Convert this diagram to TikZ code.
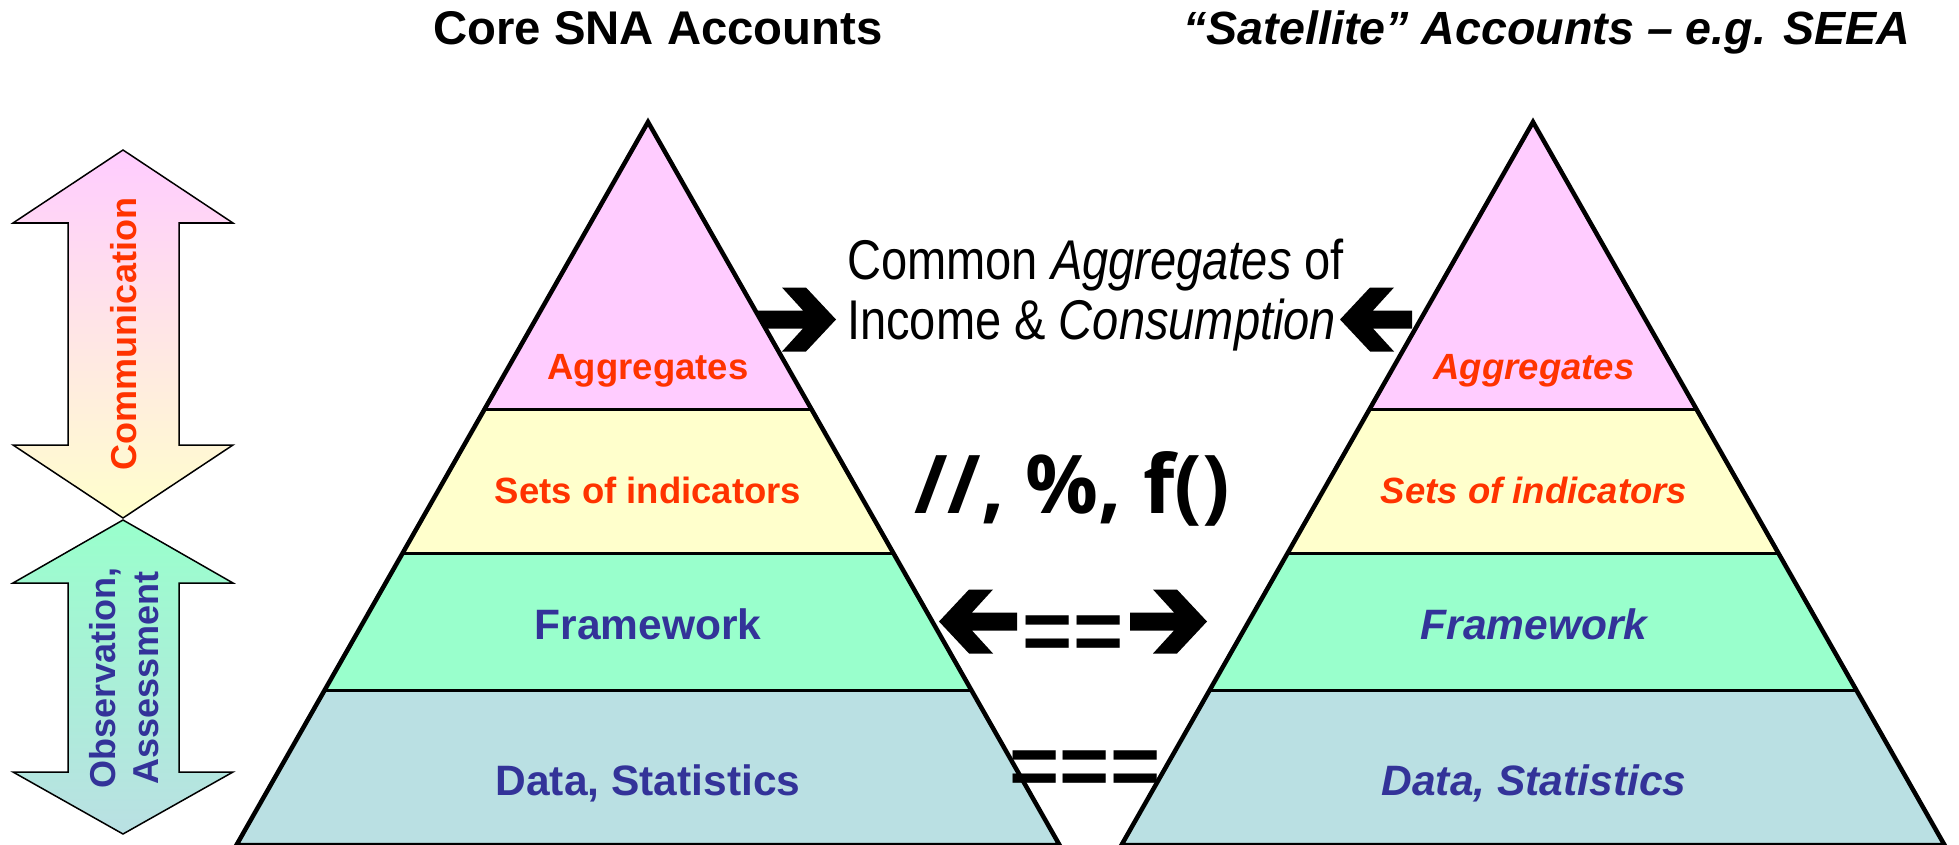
\documentclass[tikz,border=0pt]{standalone}
\usepackage{fontspec}
\setmainfont{Liberation Sans}
\newfontfamily\symbfont{Open Sans}
\newfontfamily\narrowfont[FakeStretch=0.84]{Liberation Sans}

\definecolor{bandpink}{HTML}{FFCCFF}
\definecolor{bandyellow}{HTML}{FFFFCC}
\definecolor{bandmint}{HTML}{99FFCC}
\definecolor{bandteal}{HTML}{BAE0E3}
\definecolor{labelred}{HTML}{FF3300}
\definecolor{labelblue}{HTML}{333399}

\tikzset{
  header/.style={font=\bfseries\fontsize{47.3}{56}\selectfont, anchor=base, inner sep=0pt},
  tierupper/.style={font=\bfseries\fontsize{36.5}{44}\selectfont, text=labelred, anchor=base, inner sep=0pt},
  tierlower/.style={font=\bfseries\fontsize{42.5}{51}\selectfont, text=labelblue, anchor=base, inner sep=0pt},
  midtext/.style={font=\narrowfont\fontsize{56}{61}\selectfont, anchor=base west, inner sep=0pt},
  eqsign/.style={font=\bfseries\fontsize{86}{100}\selectfont, anchor=base, inner sep=0pt},
  sidearrow/.style={draw=black, line width=1.5pt, line join=miter},
  sidelabel/.style={font=\bfseries\fontsize{36}{43}\selectfont, rotate=90, align=center, inner sep=0pt},
  tierline/.style={line width=3pt},
  % pyramid with apex at the origin, bands separated by black lines
  pyramid/.pic={
    \begin{scope}
      \clip (0,0) -- (-411.5,723) -- (411.5,723) -- cycle;
      \fill[bandpink]   (-420,-10) rectangle (420,287);
      \fill[bandyellow] (-420,287) rectangle (420,431);
      \fill[bandmint]   (-420,431) rectangle (420,568);
      \fill[bandteal]   (-420,568) rectangle (420,740);
      \draw[tierline] (-420,287) -- (420,287);
      \draw[tierline] (-420,431) -- (420,431);
      \draw[tierline] (-420,568) -- (420,568);
    \end{scope}
    \draw[line width=4.5pt, line join=miter] (0,0) -- (-411.5,723) -- (411.5,723) -- cycle;
  },
  % heavy black arrow, tip at the origin pointing to +x, shaft length #1
  blockarrow/.pic={
    \fill[black] (0,0) -- (-30,-32) -- (-54,-32) -- (-33,-9) -- (-#1,-9)
      -- (-#1,9) -- (-33,9) -- (-54,32) -- (-30,32) -- cycle;
  }
}

\begin{document}
\begin{tikzpicture}[x=1pt,y=-1pt]
\useasboundingbox (0,0) rectangle (1959,845);
\fill[white] (0,0) rectangle (1959,845);

% headings
\node[header] (hcore) at (658,45) {Core SNA Accounts};
\node[header, font=\bfseries\itshape\fontsize{46.6}{56}\selectfont] (hsat) at (1547,45) {“Satellite” Accounts – e.g. SEEA};

% side double arrows
\shade[sidearrow, top color=bandpink, bottom color=bandyellow]
  (123,150) -- (233,223) -- (179,223) -- (179,445) -- (233,445) -- (123,518)
  -- (13,445) -- (68,445) -- (68,223) -- (13,223) -- cycle;
\shade[sidearrow, top color=bandmint, bottom color=bandteal]
  (123,520) -- (233,583) -- (179,583) -- (179,772) -- (233,772) -- (123,834)
  -- (13,772) -- (68,772) -- (68,583) -- (13,583) -- cycle;
\node[sidelabel, text=labelred] (comm) at (123.5,334) {Communication};
\node[sidelabel, text=labelblue] (obs) at (124,678) {Observation,\\Assessment};

% black arrows between the pyramids
\pic at (836,319.5) {blockarrow=86};
\pic[xscale=-1] at (1340,319.5) {blockarrow=72};
\pic[xscale=-1] at (939,621.5) {blockarrow=78};
\pic at (1207,621.5) {blockarrow=77};

% pyramids
\pic at (648,122) {pyramid};
\pic at (1533,122) {pyramid};

% tier labels, core accounts
\node[tierupper] (lagg) at (648,379) {Aggregates};
\node[tierupper] (lsets) at (648,503) {Sets of indicators};
\node[tierlower] (lframe) at (648,639) {Framework};
\node[tierlower] (ldata) at (648,795) {Data, Statistics};

% tier labels, satellite accounts
\node[tierupper, font=\bfseries\itshape\fontsize{36.5}{44}\selectfont] (ragg) at (1534,379) {Aggregates};
\node[tierupper, font=\bfseries\itshape\fontsize{36.5}{44}\selectfont] (rsets) at (1534,503) {Sets of indicators};
\node[tierlower, font=\bfseries\itshape\fontsize{42.5}{51}\selectfont] (rframe) at (1534,639) {Framework};
\node[tierlower, font=\bfseries\itshape\fontsize{42.5}{51}\selectfont] (rdata) at (1534,795) {Data, Statistics};

% middle texts
\node[midtext] (common1) at (847,279) {Common \textit{Aggregates} of};
\node[midtext] (common2) at (847,339) {Income \& \textit{Consumption}};
\node[anchor=base, inner sep=0pt, font=\symbfont\bfseries\fontsize{81}{95}\selectfont] (ops) at (1072,513) {//, \%, f()};
\node[eqsign] (eq2) at (1073,660) {==};
\node[eqsign] (eq3) at (1085,795) {===};
\end{tikzpicture}
\end{document}
